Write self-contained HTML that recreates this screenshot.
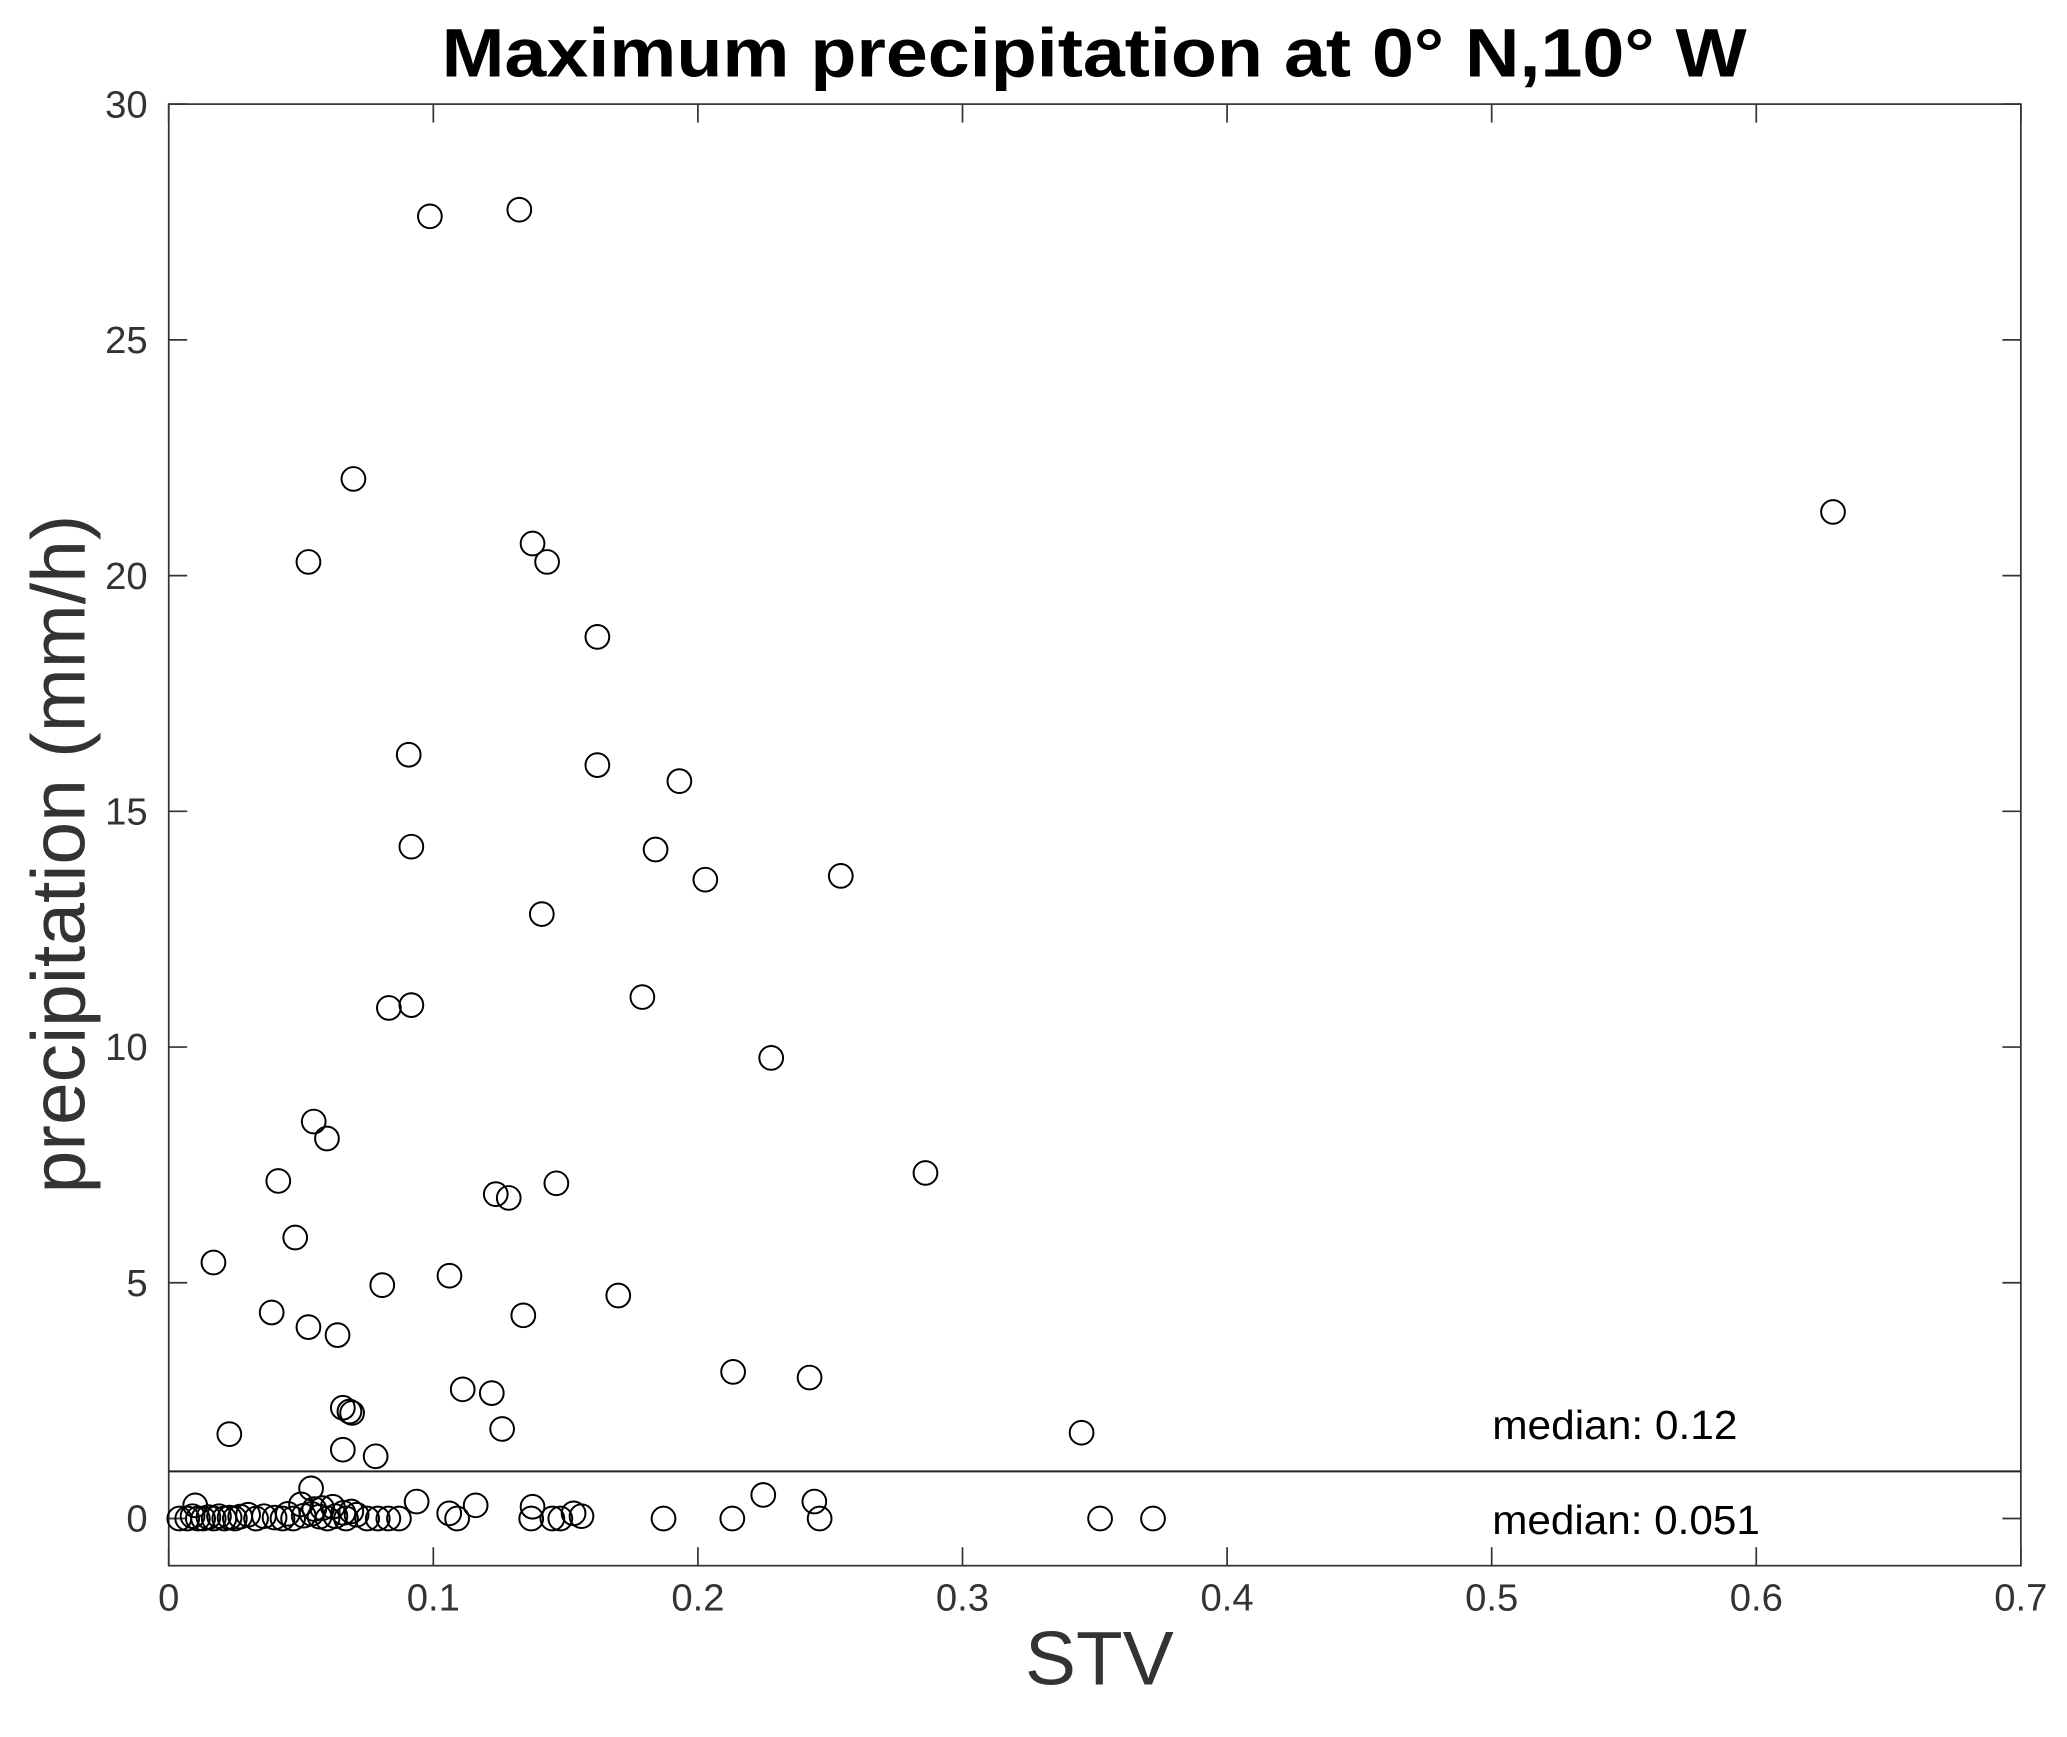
<!DOCTYPE html>
<html><head><meta charset="utf-8"><style>
html,body{margin:0;padding:0;background:#fff}
svg{display:block}
text{font-family:"Liberation Sans",Arial,sans-serif}
</style></head><body>
<svg id="chart" width="2067" height="1737" viewBox="0 0 1568 1318" preserveAspectRatio="none" xmlns="http://www.w3.org/2000/svg">
<rect x="0" y="0" width="1568" height="1318" fill="#fff"/>
<text x="830" y="58" text-anchor="middle" font-size="52" font-weight="bold" fill="#000" textLength="990" lengthAdjust="spacingAndGlyphs">Maximum precipitation at 0° N,10° W</text>
<g id="axes"></g>
<g id="marks"></g>
<text transform="translate(64,648) rotate(-90)" text-anchor="middle" font-size="58" fill="#333" textLength="515" lengthAdjust="spacingAndGlyphs">precipitation (mm/h)</text>
<text x="834" y="1278" text-anchor="middle" font-size="58" fill="#333">STV</text>
<text x="1132" y="1092" font-size="31" fill="#000" textLength="186" lengthAdjust="spacingAndGlyphs">median: 0.12</text>
<text x="1132" y="1164" font-size="31" fill="#000" textLength="203" lengthAdjust="spacingAndGlyphs">median: 0.051</text>
</svg>
<script>
const xTicks=[0,0.1,0.2,0.3,0.4,0.5,0.6,0.7];
const xTickLabels=["0","0.1","0.2","0.3","0.4","0.5","0.6","0.7"];
const yTicks=[0,5,10,15,20,25,30];
const yTickLabels=["0","5","10","15","20","25","30"];
const thresholdValue=1;
const stvValues=[0.0987,0.1325,0.0698,0.629,0.1375,0.143,0.0528,0.162,0.0907,0.162,0.193,0.0917,0.184,0.2028,0.254,0.141,0.179,0.0832,0.0917,0.2277,0.0548,0.0598,0.286,0.0414,0.1465,0.1236,0.1285,0.0478,0.0169,0.1061,0.0807,0.1699,0.0389,0.134,0.0528,0.0638,0.2133,0.2422,0.1111,0.1221,0.0658,0.0683,0.0693,0.126,0.0229,0.345,0.0658,0.0782,
0.0538,0.2247,0.0937,0.244,0.116,0.1375,0.01,0.106,0.153,0.05,0.062,0.069,0.045,0.055,0.058,0.066,
0.004,0.007,0.009,0.011,0.013,0.015,0.017,0.019,0.021,0.023,0.025,0.027,0.03,0.033,0.036,0.04,0.043,0.047,0.051,0.054,0.057,0.06,0.063,0.067,0.071,0.075,0.079,0.083,0.087,0.109,0.137,0.145,0.148,0.156,0.187,0.213,0.246,0.352,0.372];
const precipValues=[27.62,27.76,22.05,21.35,20.68,20.29,20.29,18.7,16.2,15.98,15.64,14.25,14.19,13.55,13.63,12.82,11.06,10.83,10.89,9.77,8.42,8.06,7.33,7.16,7.11,6.88,6.8,5.96,5.43,5.15,4.95,4.73,4.37,4.31,4.06,3.89,3.11,2.99,2.74,2.66,2.35,2.27,2.24,1.9,1.79,1.82,1.46,1.32,
0.64,0.5,0.36,0.36,0.28,0.25,0.28,0.11,0.11,0.3,0.25,0.15,0.1,0.2,0.22,0.12,
0,0,0.05,0,0,0.03,0,0.05,0,0.02,0,0.04,0.08,0,0.05,0.02,0,0,0.06,0.1,0.04,0,0.05,0,0.08,0,0,0,0,0,0,0,0,0.05,0,0,0,0,0];
const L=128,R=1533,T=79,B=1188,xMin=0,xMax=0.7,yMin=-1,yMax=30;
const xs=v=>L+(v-xMin)/(xMax-xMin)*(R-L);
const ys=v=>B-(v-yMin)/(yMax-yMin)*(B-T);
const NS="http://www.w3.org/2000/svg";
const axes=document.getElementById('axes'),marks=document.getElementById('marks');
function mk(tag,attrs,parent){const e=document.createElementNS(NS,tag);for(const k in attrs)e.setAttribute(k,attrs[k]);parent.appendChild(e);return e;}
const frame=mk('rect',{x:L,y:T,width:R-L,height:B-T,fill:'none',stroke:'#333','stroke-width':1.3},axes);


xTicks.forEach((v,i)=>{
 const x=xs(v);
 const t1=mk('line',{x1:x,y1:B,x2:x,y2:B-14,stroke:'#333','stroke-width':1.3},axes);
 
 
 const t2=mk('line',{x1:x,y1:T,x2:x,y2:T+14,stroke:'#333','stroke-width':1.3},axes);
 
 
 const lb=mk('text',{x:x,y:B+34,'text-anchor':'middle','font-size':29,fill:'#333'},axes);
 lb.textContent=xTickLabels[i];
 
 
});
yTicks.forEach((v,i)=>{
 const y=ys(v);
 const t1=mk('line',{x1:L,y1:y,x2:L+14,y2:y,stroke:'#333','stroke-width':1.3},axes);
 
 
 const t2=mk('line',{x1:R,y1:y,x2:R-14,y2:y,stroke:'#333','stroke-width':1.3},axes);
 
 
 const lb=mk('text',{x:L-16,y:y+10,'text-anchor':'end','font-size':29,fill:'#333'},axes);
 lb.textContent=yTickLabels[i];
 
 
});
const th=mk('line',{x1:L,y1:ys(thresholdValue),x2:R,y2:ys(thresholdValue),stroke:'#222','stroke-width':1.6},axes);


stvValues.forEach((v,i)=>{
 const c=mk('circle',{cx:xs(v),cy:ys(precipValues[i]),r:9,fill:'none',stroke:'#000','stroke-width':1.5},marks);
 
 
});
</script>
</body></html>
